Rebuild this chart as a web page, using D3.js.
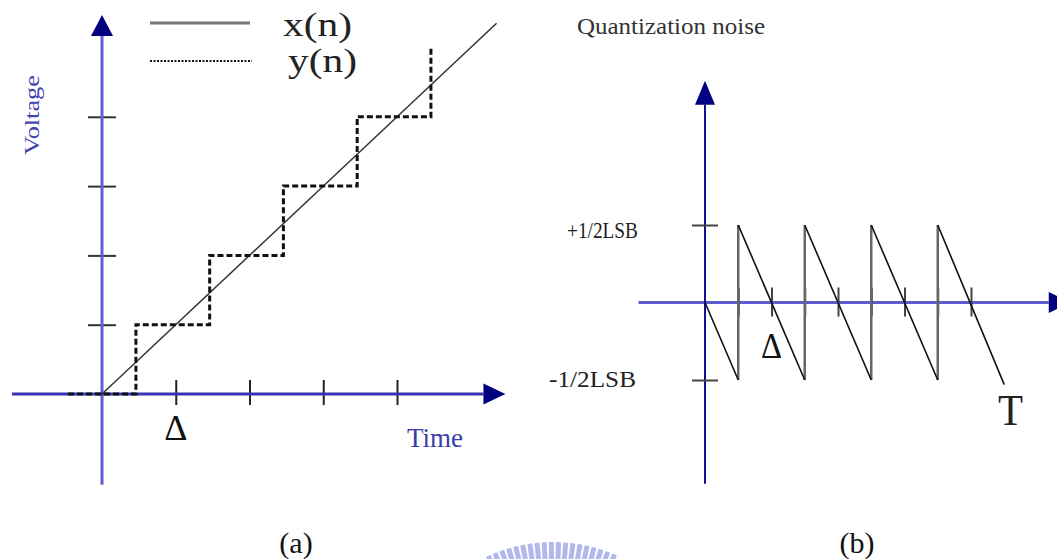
<!DOCTYPE html>
<html>
<head>
<meta charset="utf-8">
<title>Quantization</title>
<script src="https://cdn.jsdelivr.net/npm/d3@7/dist/d3.min.js"></script>
<style>
    body { margin: 0; background: #ffffff; }
    #chart-area svg { display: block; font-family: "Liberation Serif", "DejaVu Serif", serif; }
</style>
</head>
<body>
<div id="chart-area"></div>
<script>

// (a) ramp input x(n) and quantized output y(n), time in delta, voltage in LSB
let rampT = [0, 5.35];
let rampV = [0, 5.35];
let stairT = [-0.46, 0.46, 0.46, 1.46, 1.46, 2.46, 2.46, 3.46, 3.46, 4.46, 4.46];
let stairV = [0, 0, 1, 1, 2, 2, 3, 3, 4, 4, 5.02];
let voltTicks = [1, 2, 3, 4];
let timeTicks = [1, 2, 3, 4];

// (b) quantization noise sawtooth, in LSB
let noiseT = [0, 0.5, 0.5, 1.5, 1.5, 2.5, 2.5, 3.5, 3.5, 4.5];
let noiseV = [0, -0.5, 0.5, -0.5, 0.5, -0.5, 0.5, -0.5, 0.5, -0.53];
let noiseTicks = [0.5, 1, 1.5, 2, 2.5, 3, 3.5, 4];
let lsbTicks = [0.5, -0.5];
let lsbLabels = ["+1/2LSB", "-1/2LSB"];

let legendNames = ["x(n)", "y(n)"];
let panelNames = ["(a)", "(b)"];


class QuantVis {

    constructor(parentElement) {
        this.parentElement = parentElement;
        this.initVis();
    }

    initVis() {
        let vis = this;

        vis.width = 1057;
        vis.height = 559;

        vis.svg = d3.select("#" + vis.parentElement).append("svg")
            .attr("width", vis.width)
            .attr("height", vis.height);

        vis.line = d3.line();

        vis.drawPanelA();
        vis.drawPanelB();
        vis.drawCaptions();
    }

    // axis line with a filled triangle head
    arrow(g, x1, y1, x2, y2, lineColor, headColor, lineWidth, headLen, headHalf) {
        let ang = Math.atan2(y2 - y1, x2 - x1);
        let bx = x2 - headLen * Math.cos(ang), by = y2 - headLen * Math.sin(ang);
        let px = -Math.sin(ang) * headHalf, py = Math.cos(ang) * headHalf;

        g.append("line")
            .attr("x1", x1).attr("y1", y1)
            .attr("x2", bx).attr("y2", by)
            .attr("stroke", lineColor)
            .attr("stroke-width", lineWidth);

        g.append("path")
            .attr("d", `M${x2},${y2}L${bx + px},${by + py}L${bx - px},${by - py}Z`)
            .attr("fill", headColor);
    }

    drawPanelA() {
        let vis = this;

        vis.xA = d3.scaleLinear().domain([0, 4]).range([102, 397]);
        vis.yA = d3.scaleLinear().domain([0, 4]).range([394, 116.8]);

        let g = vis.svg.append("g").attr("class", "panel-a");

        // ticks
        g.append("g")
            .attr("class", "axis y-axis")
            .attr("transform", `translate(${vis.xA(0) + 14}, 0)`)
            .call(d3.axisLeft(vis.yA).tickValues(voltTicks).tickSize(28).tickFormat(""))
            .call(a => a.select(".domain").remove())
            .selectAll("line").attr("stroke", "#333").attr("stroke-width", 2);

        g.append("g")
            .attr("class", "axis x-axis")
            .attr("transform", `translate(0, ${vis.yA(0) - 14})`)
            .call(d3.axisBottom(vis.xA).tickValues(timeTicks).tickSize(25).tickFormat(""))
            .call(a => a.select(".domain").remove())
            .selectAll("line").attr("stroke", "#222").attr("stroke-width", 2);

        // axes
        vis.arrow(g, vis.xA(0), vis.yA(-1.31), vis.xA(0), vis.yA(5.47), "#5e5ed2", "#000080", 3, 21, 11);
        vis.arrow(g, vis.xA(-1.22), vis.yA(0), vis.xA(5.47), vis.yA(0), "#3434b0", "#000080", 3, 22, 10.5);

        // x(n)
        g.append("path")
            .datum(rampT.map((t, i) => [vis.xA(t), vis.yA(rampV[i])]))
            .attr("d", vis.line)
            .attr("fill", "none")
            .attr("stroke", "#333")
            .attr("stroke-width", 1.5);

        // y(n)
        g.append("path")
            .datum(stairT.map((t, i) => [vis.xA(t), vis.yA(stairV[i])]))
            .attr("d", vis.line)
            .attr("fill", "none")
            .attr("stroke", "#111")
            .attr("stroke-width", 3)
            .attr("stroke-dasharray", "6,3");

        // legend
        let legend = g.append("g").attr("class", "legend");
        legend.append("line")
            .attr("x1", 150).attr("x2", 250).attr("y1", 23).attr("y2", 23)
            .attr("stroke", "#777").attr("stroke-width", 3);
        legend.append("line")
            .attr("x1", 150).attr("x2", 252).attr("y1", 61).attr("y2", 61)
            .attr("stroke", "#111").attr("stroke-width", 2)
            .attr("stroke-dasharray", "2,1.5");

        legend.selectAll(".legend-label")
            .data(legendNames)
            .enter()
            .append("text")
            .attr("class", "legend-label")
            .attr("x", (d, i) => i === 0 ? 283 : 288)
            .attr("y", (d, i) => i === 0 ? 36 : 72)
            .attr("textLength", 69)
            .attr("lengthAdjust", "spacingAndGlyphs")
            .attr("font-size", 34)
            .attr("fill", "#222")
            .text(d => d);

        // labels
        g.append("text")
            .attr("transform", "translate(39, 115) rotate(-90)")
            .attr("text-anchor", "middle")
            .attr("font-size", 21)
            .attr("textLength", 80)
            .attr("lengthAdjust", "spacingAndGlyphs")
            .attr("fill", "#4444b0")
            .text("Voltage");

        g.append("text")
            .attr("x", 407).attr("y", 447)
            .attr("font-size", 28)
            .attr("textLength", 56)
            .attr("lengthAdjust", "spacingAndGlyphs")
            .attr("fill", "#3c3ca8")
            .text("Time");

        g.append("text")
            .attr("x", vis.xA(1)).attr("y", 440)
            .attr("text-anchor", "middle")
            .attr("font-size", 36)
            .attr("fill", "#111")
            .text("Δ");
    }

    drawPanelB() {
        let vis = this;

        vis.xB = d3.scaleLinear().domain([0, 4]).range([705, 971]);
        vis.yB = d3.scaleLinear().domain([-0.5, 0.5]).range([380, 225]);

        let g = vis.svg.append("g").attr("class", "panel-b");

        g.append("text")
            .attr("x", 577).attr("y", 34)
            .attr("font-size", 24)
            .attr("textLength", 188)
            .attr("lengthAdjust", "spacingAndGlyphs")
            .attr("fill", "#333")
            .text("Quantization noise");

        // horizontal axis and its ticks
        vis.arrow(g, vis.xB(-1.0), vis.yB(0), vis.xB(5.5), vis.yB(0), "#5c5cd0", "#000080", 3, 22, 10.5);

        g.append("g")
            .attr("class", "axis x-axis")
            .attr("transform", `translate(0, ${vis.yB(0) - 15})`)
            .call(d3.axisBottom(vis.xB).tickValues(noiseTicks).tickSize(29).tickFormat(""))
            .call(a => a.select(".domain").remove())
            .selectAll("line").attr("stroke", "#444").attr("stroke-width", 2);

        // vertical axis and its ticks
        vis.arrow(g, vis.xB(0), vis.yB(-1.17) + 0, vis.xB(0), vis.yB(1.43), "#10109a", "#000080", 2, 24, 10);

        g.append("g")
            .attr("class", "axis y-axis")
            .attr("transform", `translate(${vis.xB(0) + 13}, 0)`)
            .call(d3.axisLeft(vis.yB).tickValues(lsbTicks).tickSize(26).tickFormat(""))
            .call(a => a.select(".domain").remove())
            .selectAll("line").attr("stroke", "#444").attr("stroke-width", 2);

        g.selectAll(".lsb-label")
            .data(lsbTicks)
            .enter()
            .append("text")
            .attr("class", "lsb-label")
            .attr("x", (d, i) => i === 0 ? 567 : 549)
            .attr("y", d => vis.yB(d) + (d > 0 ? 13 : 7))
            .attr("font-size", 24)
            .attr("textLength", (d, i) => i === 0 ? 71 : 87)
            .attr("lengthAdjust", "spacingAndGlyphs")
            .attr("fill", "#222")
            .text((d, i) => lsbLabels[i]);

        // sawtooth: falling ramps in black, jumps in grey
        let pts = noiseT.map((t, i) => [vis.xB(t), vis.yB(noiseV[i])]);
        let ramps = [], jumps = [];
        for (let i = 0; i < pts.length - 1; i++) {
            if (noiseT[i] === noiseT[i + 1]) jumps.push([pts[i], pts[i + 1]]);
            else ramps.push([pts[i], pts[i + 1]]);
        }

        g.selectAll(".jump")
            .data(jumps)
            .enter()
            .append("path")
            .attr("class", "jump")
            .attr("d", vis.line)
            .attr("stroke", "#666")
            .attr("stroke-width", 2.5);

        g.selectAll(".ramp")
            .data(ramps)
            .enter()
            .append("path")
            .attr("class", "ramp")
            .attr("d", vis.line)
            .attr("stroke", "#111")
            .attr("stroke-width", 1.6);

        g.append("text")
            .attr("x", vis.xB(1)).attr("y", 358)
            .attr("text-anchor", "middle")
            .attr("font-size", 36)
            .attr("textLength", 21)
            .attr("lengthAdjust", "spacingAndGlyphs")
            .attr("fill", "#111")
            .text("Δ");

        g.append("text")
            .attr("x", 998).attr("y", 425)
            .attr("font-size", 45)
            .attr("textLength", 25)
            .attr("lengthAdjust", "spacingAndGlyphs")
            .attr("fill", "#222")
            .text("T");
    }

    drawCaptions() {
        let vis = this;

        vis.svg.selectAll(".caption")
            .data(panelNames)
            .enter()
            .append("text")
            .attr("class", "caption")
            .attr("x", (d, i) => i === 0 ? 296 : 857)
            .attr("y", 553)
            .attr("text-anchor", "middle")
            .attr("font-size", 30)
            .attr("fill", "#111")
            .text(d => d);

        // faint logo watermark at the bottom edge
        let cx = 553, cy = 701;
        let angles = d3.range(-24, 25, 2.6);
        vis.svg.append("g")
            .attr("class", "watermark")
            .selectAll("rect")
            .data(angles)
            .enter()
            .append("rect")
            .attr("x", -2.5).attr("y", -159)
            .attr("width", 5).attr("height", 18)
            .attr("rx", 1)
            .attr("fill", "#a4acea")
            .attr("opacity", 0.85)
            .attr("transform", d => `translate(${cx}, ${cy}) rotate(${d})`);
    }
}

let quantVis = new QuantVis("chart-area");

</script>
</body>
</html>
